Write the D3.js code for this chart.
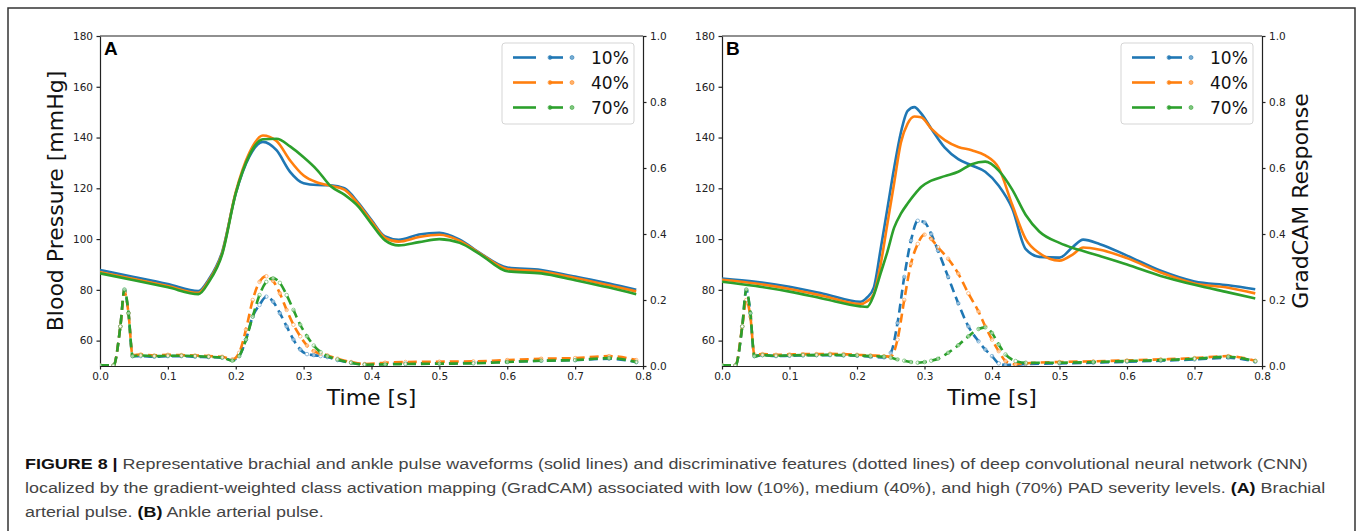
<!DOCTYPE html>
<meta charset="utf-8">
<style>
  body { margin: 0; background: #fff; }
  .tick text { font-family: "DejaVu Sans", sans-serif; font-size: 10.5px; fill: #222; }
  .tick line, .domain { stroke: #222; stroke-width: 1.2; }
  .axis-title { font-family: "DejaVu Sans", sans-serif; font-size: 22px; fill: #111; }
  .panel-label { font-family: "Liberation Sans", Arial, sans-serif; font-size: 19px; font-weight: bold; }
  .legend text { font-family: "DejaVu Sans", sans-serif; font-size: 17px; fill: #111; }
  .caption { font-family: "Liberation Sans", Arial, sans-serif; font-size: 15.5px; fill: #444; }
  .caption .b { font-weight: bold; fill: #111; }
</style>

<svg width="1358" height="531"></svg>
<script src="https://d3js.org/d3.v7.min.js"></script>
<script>
// ---- data ----
var levels = ["10%", "40%", "70%"];
var colors = ["#1f77b4", "#ff7f0e", "#2ca02c"];
var bpTicks = [60, 80, 100, 120, 140, 160, 180];
var camTicks = [0, 0.2, 0.4, 0.6, 0.8, 1.0];
var timeTicks = [0, 0.1, 0.2, 0.3, 0.4, 0.5, 0.6, 0.7, 0.8];

// Panel A: brachial pulse (mmHg)
var tSolidA = [0, 0.05, 0.1, 0.145, 0.16, 0.18, 0.2, 0.22, 0.24, 0.26, 0.28, 0.3, 0.32, 0.34, 0.36, 0.38, 0.4, 0.42, 0.44, 0.47, 0.5, 0.53, 0.56, 0.6, 0.65, 0.7, 0.75, 0.79];
var bpA10 = [87.8, 85.1, 82.3, 79.5, 84, 95, 118, 132.5, 138.3, 135, 126.5, 122, 121.3, 121.2, 120, 114.5, 107.5, 101, 99.7, 101.8, 102.5, 99.8, 94.5, 88.8, 87.8, 85.2, 82.5, 80];
var bpA40 = [87.0, 84.3, 81.5, 78.8, 83.5, 94.5, 118.5, 134, 140.8, 138.6, 131, 125, 122.3, 121, 119.5, 114, 107, 100.5, 99, 100.8, 101.7, 99.3, 94.3, 88.2, 87.2, 84.7, 81.8, 79.4];
var bpA70 = [86.5, 83.8, 81, 78.3, 83, 94, 118, 133, 139.3, 139.5, 136.5, 132.2, 127.2, 120.8, 117.5, 113, 106, 99.5, 97.5, 98.8, 100, 98.5, 94, 87.3, 86.5, 83.8, 80.9, 78.3];

// Panel A: GradCAM response
var tCamA = [0, 0.02, 0.03, 0.036, 0.042, 0.048, 0.06, 0.08, 0.1, 0.12, 0.14, 0.16, 0.18, 0.195, 0.205, 0.215, 0.225, 0.235, 0.245, 0.255, 0.265, 0.275, 0.285, 0.295, 0.305, 0.315, 0.325, 0.335, 0.35, 0.37, 0.39, 0.42, 0.45, 0.5, 0.55, 0.6, 0.65, 0.7, 0.75, 0.79];
var camA10 = [0.002, 0.002, 0.12, 0.23, 0.16, 0.03, 0.03, 0.028, 0.03, 0.03, 0.028, 0.027, 0.025, 0.018, 0.03, 0.08, 0.15, 0.185, 0.21, 0.195, 0.16, 0.12, 0.08, 0.05, 0.036, 0.033, 0.03, 0.027, 0.018, 0.01, 0.005, 0.006, 0.008, 0.008, 0.01, 0.013, 0.016, 0.018, 0.022, 0.012];
var camA40 = [0.002, 0.002, 0.12, 0.225, 0.16, 0.033, 0.035, 0.032, 0.034, 0.033, 0.032, 0.03, 0.028, 0.02, 0.04, 0.11, 0.2, 0.255, 0.272, 0.258, 0.22, 0.17, 0.125, 0.09, 0.062, 0.045, 0.037, 0.032, 0.022, 0.012, 0.006, 0.01, 0.012, 0.013, 0.014, 0.018, 0.022, 0.024, 0.03, 0.018];
var camA70 = [0.002, 0.002, 0.12, 0.232, 0.16, 0.03, 0.032, 0.03, 0.031, 0.031, 0.03, 0.028, 0.026, 0.016, 0.03, 0.08, 0.15, 0.215, 0.255, 0.266, 0.252, 0.215, 0.17, 0.125, 0.09, 0.062, 0.042, 0.03, 0.02, 0.01, 0.004, 0.005, 0.006, 0.007, 0.008, 0.012, 0.016, 0.018, 0.024, 0.012];

// Panel B: ankle pulse (mmHg)
var tSolidB = [0, 0.05, 0.1, 0.15, 0.205, 0.215, 0.225, 0.235, 0.245, 0.255, 0.265, 0.275, 0.285, 0.295, 0.31, 0.33, 0.35, 0.37, 0.39, 0.41, 0.43, 0.45, 0.47, 0.5, 0.52, 0.535, 0.56, 0.6, 0.65, 0.7, 0.75, 0.79];
var bpB10 = [84.5, 83.2, 81.2, 78.5, 75.3, 77, 81, 96, 112, 128, 142, 150.5, 152, 149.5, 143.5, 136, 131.5, 129, 126.5, 121, 112, 96, 93, 92.7, 97, 99.8, 98, 93.5, 87.5, 83.3, 81.8, 80.2];
var bpB40 = [84, 82.5, 80.3, 77.6, 74.4, 75.5, 78.5, 90, 106, 122, 138, 145.5, 148.3, 148, 143.5, 139, 136.3, 135, 133, 128, 113.5, 100, 94.5, 91.5, 94, 96.7, 95.8, 92.5, 86.8, 82.5, 80.8, 78.6];
var bpB70 = [83.2, 81.5, 79.3, 76.5, 73.5, 73.3, 78, 86.5, 95, 104.5, 110, 114, 117.5, 120.5, 123, 124.8, 126.5, 129.5, 130.5, 127, 119.5, 109.5, 103, 98.5, 96.5, 95.3, 93.3, 90, 85.5, 82, 79, 76.6];

// Panel B: GradCAM response
var tCamB = [0, 0.02, 0.03, 0.036, 0.042, 0.048, 0.06, 0.08, 0.1, 0.12, 0.14, 0.16, 0.18, 0.2, 0.22, 0.24, 0.25, 0.26, 0.27, 0.28, 0.29, 0.3, 0.31, 0.32, 0.335, 0.35, 0.365, 0.38, 0.39, 0.4, 0.41, 0.42, 0.435, 0.45, 0.5, 0.55, 0.6, 0.65, 0.7, 0.75, 0.79];
var camB10 = [0.002, 0.002, 0.12, 0.23, 0.16, 0.03, 0.033, 0.03, 0.031, 0.032, 0.033, 0.033, 0.032, 0.031, 0.028, 0.026, 0.04, 0.13, 0.27, 0.38, 0.44, 0.435, 0.4, 0.35, 0.27, 0.19, 0.12, 0.075, 0.05, 0.03, 0.008, 0.003, 0.004, 0.006, 0.008, 0.01, 0.013, 0.016, 0.02, 0.025, 0.013];
var camB40 = [0.002, 0.002, 0.12, 0.2, 0.15, 0.035, 0.036, 0.034, 0.035, 0.036, 0.036, 0.037, 0.036, 0.034, 0.032, 0.03, 0.028, 0.08, 0.2, 0.31, 0.37, 0.398, 0.385, 0.36, 0.325, 0.28, 0.22, 0.165, 0.12, 0.08, 0.045, 0.015, 0.005, 0.008, 0.012, 0.014, 0.017, 0.02, 0.024, 0.03, 0.016];
var camB70 = [0.002, 0.002, 0.12, 0.232, 0.16, 0.03, 0.033, 0.031, 0.032, 0.033, 0.033, 0.034, 0.033, 0.032, 0.03, 0.028, 0.025, 0.02, 0.016, 0.012, 0.01, 0.012, 0.016, 0.022, 0.04, 0.063, 0.09, 0.112, 0.117, 0.1, 0.065, 0.035, 0.015, 0.01, 0.01, 0.012, 0.015, 0.018, 0.022, 0.028, 0.015];

var svg = d3.select("svg");

// outer figure frame (open at the bottom)
svg.append("path")
    .attr("d", "M8,535 V8 H1355 V535")
    .attr("fill", "none")
    .attr("stroke", "#333")
    .attr("stroke-width", 1.5);

var plotTop = 36, plotBottom = 366;

function drawPanel(p) {
  var g = svg.append("g");
  var x = d3.scaleLinear().domain([0, 0.8]).range([p.left, p.right]);
  var yBP = d3.scaleLinear().domain([50, 180]).range([plotBottom, plotTop]);
  var yCam = d3.scaleLinear().domain([0, 1]).range([plotBottom, plotTop]);

  g.append("clipPath").attr("id", "clip" + p.name)
    .append("rect")
      .attr("x", p.left).attr("y", plotTop)
      .attr("width", p.right - p.left).attr("height", plotBottom - plotTop);

  // axes
  g.append("g").attr("transform", "translate(0," + plotBottom + ")")
      .call(d3.axisBottom(x).tickValues(timeTicks).tickFormat(d3.format(".1f"))
        .tickSize(3.5).tickPadding(3.5).tickSizeOuter(0));
  g.append("g").attr("transform", "translate(" + p.left + ",0)")
      .call(d3.axisLeft(yBP).tickValues(bpTicks).tickSize(3.5).tickPadding(3.5).tickSizeOuter(0));
  g.append("g").attr("transform", "translate(" + p.right + ",0)")
      .call(d3.axisRight(yCam).tickValues(camTicks).tickFormat(d3.format(".1f"))
        .tickSize(3.5).tickPadding(3.5).tickSizeOuter(0));
  g.append("line")
      .attr("x1", p.left).attr("x2", p.right).attr("y1", plotTop).attr("y2", plotTop)
      .attr("stroke", "#222").attr("stroke-width", 1.2);

  var plot = g.append("g").attr("clip-path", "url(#clip" + p.name + ")");

  // blood pressure waveforms (solid)
  var bpLine = d3.line().curve(d3.curveMonotoneX)
      .x(function(d, i) { return x(p.tSolid[i]); })
      .y(function(d) { return yBP(d); });
  p.bp.forEach(function(s, k) {
    plot.append("path").datum(s)
        .attr("d", bpLine)
        .attr("fill", "none")
        .attr("stroke", colors[k])
        .attr("stroke-width", 2.6)
        .attr("stroke-linejoin", "round");
  });

  // GradCAM responses (dashed with markers)
  var camLine = d3.line().curve(d3.curveMonotoneX)
      .x(function(d, i) { return x(p.tCam[i]); })
      .y(function(d) { return yCam(d); });
  p.cam.forEach(function(s, k) {
    plot.append("path").datum(s)
        .attr("d", camLine)
        .attr("fill", "none")
        .attr("stroke", colors[k])
        .attr("stroke-width", 2.6)
        .attr("stroke-dasharray", "9,5");
    plot.selectAll(null).data(s).enter().append("circle")
        .attr("cx", function(d, i) { return x(p.tCam[i]); })
        .attr("cy", function(d) { return yCam(d); })
        .attr("r", 1.8)
        .attr("fill", "#fff")
        .attr("fill-opacity", 0.55)
        .attr("stroke", colors[k])
        .attr("stroke-opacity", 0.6)
        .attr("stroke-width", 0.8);
  });

  // panel letter
  g.append("text").attr("class", "panel-label")
      .attr("x", p.left + 4).attr("y", 55).text(p.name);

  // x title
  g.append("text").attr("class", "axis-title")
      .attr("x", (p.left + p.right) / 2).attr("y", 405)
      .attr("text-anchor", "middle").text("Time [s]");

  if (p.leftTitle) {
    g.append("text").attr("class", "axis-title")
        .attr("transform", "translate(63," + (plotTop + plotBottom) / 2 + ") rotate(-90)")
        .attr("text-anchor", "middle").text(p.leftTitle);
  }
  if (p.rightTitle) {
    g.append("text").attr("class", "axis-title")
        .attr("transform", "translate(1308," + (plotTop + plotBottom) / 2 + ") rotate(-90)")
        .attr("text-anchor", "middle").text(p.rightTitle);
  }

  // legend
  var lg = g.append("g").attr("class", "legend")
      .attr("transform", "translate(" + (p.right - 141) + ",43)");
  lg.append("rect")
      .attr("width", 132).attr("height", 81).attr("rx", 3)
      .attr("fill", "#fff").attr("fill-opacity", 0.8)
      .attr("stroke", "#d5d5d5").attr("stroke-width", 1);
  levels.forEach(function(lv, k) {
    var cy = 14.5 + k * 25;
    lg.append("line").attr("x1", 11).attr("x2", 34).attr("y1", cy).attr("y2", cy)
        .attr("stroke", colors[k]).attr("stroke-width", 2.6);
    lg.append("line").attr("x1", 47).attr("x2", 70).attr("y1", cy).attr("y2", cy)
        .attr("stroke", colors[k]).attr("stroke-width", 2.6).attr("stroke-dasharray", "14,9");
    [48, 70].forEach(function(cx) {
      lg.append("circle").attr("cx", cx).attr("cy", cy).attr("r", 2)
          .attr("fill", colors[k]).attr("fill-opacity", 0.6)
          .attr("stroke", colors[k]).attr("stroke-opacity", 0.7).attr("stroke-width", 0.8);
    });
    lg.append("text").attr("x", 89).attr("y", cy + 6.5).text(lv);
  });
}

drawPanel({ name: "A", left: 100, right: 643, tSolid: tSolidA, bp: [bpA10, bpA40, bpA70],
            tCam: tCamA, cam: [camA10, camA40, camA70], leftTitle: "Blood Pressure [mmHg]" });
drawPanel({ name: "B", left: 722, right: 1262, tSolid: tSolidB, bp: [bpB10, bpB40, bpB70],
            tCam: tCamB, cam: [camB10, camB40, camB70], rightTitle: "GradCAM Response" });

// caption
var captionLines = [
  [["FIGURE 8 | ", true], ["Representative brachial and ankle pulse waveforms (solid lines) and discriminative features (dotted lines) of deep convolutional neural network (CNN)", false]],
  [["localized by the gradient-weighted class activation mapping (GradCAM) associated with low (10%), medium (40%), and high (70%) PAD severity levels. ", false], ["(A)", true], [" Brachial", false]],
  [["arterial pulse. ", false], ["(B)", true], [" Ankle arterial pulse.", false]]
];
var capBase = [469, 493, 517];
var capTexts = captionLines.map(function(line, i) {
  var t = svg.append("text").attr("class", "caption");
  line.forEach(function(part) {
    t.append("tspan").attr("class", part[1] ? "b" : null).text(part[0]);
  });
  return t;
});
// condense to match the narrow caption face
var k = (1282 / capTexts[0].node().getComputedTextLength() + 1302 / capTexts[1].node().getComputedTextLength()) / 2;
capTexts.forEach(function(t, i) {
  t.attr("transform", "translate(25," + capBase[i] + ") scale(" + k + ",1)");
});
</script>
